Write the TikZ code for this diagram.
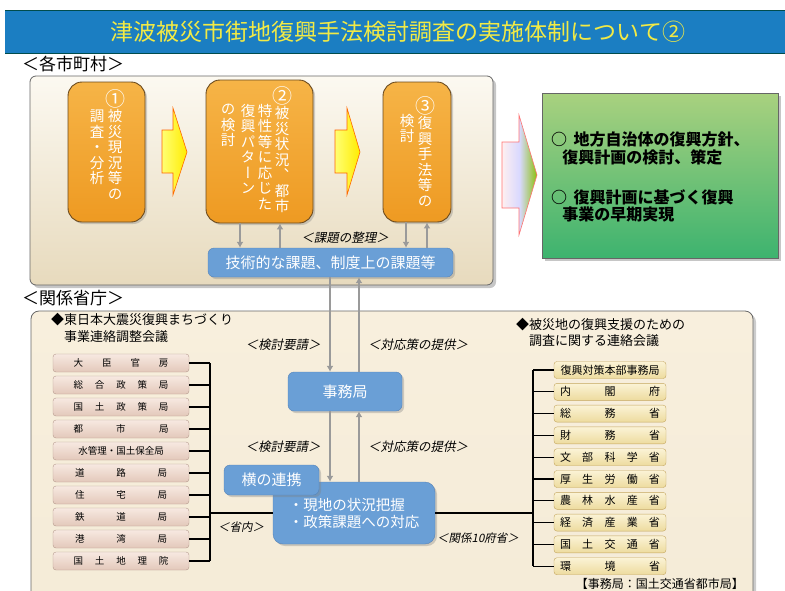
\documentclass[tikz,border=0pt]{standalone}
\usepackage{fontspec}
\setmainfont{Noto Sans CJK JP}
\newfontfamily\slantjp{Noto Sans CJK JP}[FakeSlant=0.2]
\newfontfamily\vertjp{Noto Sans CJK JP}[RawFeature=+vert]
\usetikzlibrary{arrows.meta, positioning, shadows}

\definecolor{titleblue}{HTML}{1B7EC2}
\definecolor{titleyellow}{HTML}{F2EA45}
\definecolor{panelgray}{HTML}{666666}
\definecolor{paneltop}{HTML}{FCF9F1}
\definecolor{panelbot}{HTML}{E7DABD}
\definecolor{lowtop}{HTML}{F8EFDD}
\definecolor{lowbot}{HTML}{F4EBD7}
\definecolor{orangetop}{HTML}{F6B447}
\definecolor{orangebot}{HTML}{EE9A22}
\definecolor{orangeline}{HTML}{6B4A1E}
\definecolor{greentop}{HTML}{A9D17F}
\definecolor{greenbot}{HTML}{3DB36F}
\definecolor{boxblue}{HTML}{6A9FD6}
\definecolor{blueline}{HTML}{5683B8}
\definecolor{arrowgray}{HTML}{9A9A9A}
\definecolor{lefttop}{HTML}{F7E9E1}
\definecolor{leftbot}{HTML}{E3C8BA}
\definecolor{leftline}{HTML}{B59A8E}
\definecolor{righttop}{HTML}{FBF3D6}
\definecolor{rightbot}{HTML}{EDDB9E}
\definecolor{rightline}{HTML}{C4A65E}

\newcommand{\spreadtext}[2]{\makebox[#1][s]{#2}}
\newcommand{\circnum}[1]{{\rmfamily\fontsize{20}{15.5}\selectfont #1}}

\tikzset{
  panel/.style={draw=panelgray, line width=0.8pt, rounded corners=6pt},
  orangebox/.style={draw=orangeline, line width=0.9pt, rounded corners=14pt,
    top color=orangetop, bottom color=orangebot,
    drop shadow={opacity=0.35, shadow xshift=2pt, shadow yshift=-2pt}},
  tatecol/.style={font=\vertjp\fontsize{14.5}{15.5}\selectfont, text=white,
    align=center, inner sep=0pt, anchor=north},
  bluebox/.style={draw=blueline, fill=boxblue, rounded corners=6pt, text=white,
    font=\fontsize{15}{18}\selectfont, inner sep=0pt,
    drop shadow={opacity=0.35, shadow xshift=2pt, shadow yshift=-2pt}},
  grayarrow/.style={draw=arrowgray, line width=1.6pt, -{Latex[length=6pt,width=7pt]}},
  slantlabel/.style={font=\slantjp\fontsize{12.5}{14}\selectfont, inner sep=0pt},
  leftbox/.style={draw=leftline, rounded corners=3pt, top color=lefttop, bottom color=leftbot,
    minimum width=136, minimum height=18, inner sep=0pt, font=\fontsize{9.5}{11}\selectfont},
  rightbox/.style={draw=rightline, rounded corners=3pt, top color=righttop, bottom color=rightbot,
    minimum width=112, minimum height=17, inner sep=0pt, font=\fontsize{11}{12}\selectfont},
  busline/.style={line width=1.3pt, black},
  yellowarrow/.style={draw=orange!80!red, line width=0.6pt, left color=yellow!55!white, right color=yellow!85!orange}
}

\begin{document}
\begin{tikzpicture}[x=1pt, y=-1pt]
\useasboundingbox (0,0) rectangle (785,590);

% title
\fill [titleblue] (5,10) rectangle (785,53);
\draw [teal!60!black, line width=0.6pt] (5,10) -- (785,10);
\draw [teal!60!black, line width=0.6pt] (5,53) -- (785,53);
\node (title) at (398,32) [text=titleyellow, font=\fontsize{23}{26}\selectfont] {津波被災市街地復興手法検討調査の実施体制について②};

% municipalities
\node (muni) at (22,64) [anchor=west, inner sep=0pt, font=\fontsize{17}{19}\selectfont] {＜各市町村＞};
\path [panel, top color=paneltop, bottom color=panelbot,
  drop shadow={opacity=0.45, shadow xshift=3pt, shadow yshift=-3pt}] (30,76) rectangle (493,285);

\node (o1) [orangebox, minimum width=77, minimum height=140] at (106.5,152) {};
\node (o2) [orangebox, minimum width=107, minimum height=143] at (259.5,151.5) {};
\node (o3) [orangebox, minimum width=68, minimum height=140] at (417,152) {};

\node (o1a) [tatecol] at (115,89) {\circnum{①}\\被\\災\\現\\況\\等\\の};
\node (o1b) [tatecol] at (97,110) {調\\査\\・\\分\\析};
\node (o2a) [tatecol] at (282,86) {\circnum{②}\\被\\災\\状\\況\\、\\都\\市};
\node (o2b) [tatecol] at (265,104) {特\\性\\等\\に\\応\\じ\\た};
\node (o2c) [tatecol] at (248,104) {復\\興\\パ\\タ\\ー\\ン};
\node (o2d) [tatecol] at (228,104) {の\\検\\討};
\node (o3a) [tatecol] at (425,96) {\circnum{③}\\復\\興\\手\\法\\等\\の};
\node (o3b) [tatecol] at (407,114) {検\\討};

\path [yellowarrow] (162,130) -- (173,130) -- (173,108) -- (187,152) -- (173,195) -- (173,173) -- (162,173) -- cycle;
\path [yellowarrow] (335,130) -- (347,130) -- (347,108) -- (360,152) -- (347,195) -- (347,173) -- (335,173) -- cycle;

\node (issue) [bluebox, minimum width=245, minimum height=29] at (330.5,262.5) {技術的な課題、制度上の課題等};
\node (sort) [slantlabel] at (345,238) {＜課題の整理＞};

\draw [grayarrow] ([xshift=-19.5pt]o2.south) -- ([xshift=-19.5pt]o2.south |- issue.north);
\draw [grayarrow] ([xshift=20.5pt]o2.south |- issue.north) -- ([xshift=20.5pt]o2.south);
\draw [grayarrow] ([xshift=-11pt]o3.south) -- ([xshift=-11pt]o3.south |- issue.north);
\draw [grayarrow] ([xshift=10pt]o3.south |- issue.north) -- ([xshift=10pt]o3.south);

% goal
\path [draw=red!55, line width=0.6pt, left color=red!6!white, right color=olive!70!green!70, middle color=blue!15!white]
  (502,142) -- (519,142) -- (519,115) -- (537,175) -- (519,235) -- (519,208) -- (502,208) -- cycle;
\node (goal) [draw=panelgray, line width=0.8pt, top color=greentop, bottom color=greenbot,
  minimum width=236, minimum height=165, drop shadow={opacity=0.45, shadow xshift=3pt, shadow yshift=-3pt}] at (660,175.5) {};
\node (goal1) [anchor=west, align=left, inner sep=0pt, font=\bfseries\fontsize{16}{17.5}\selectfont] at (551,148.5)
  {○\hspace{0.4em}地方自治体の復興方針、\\\hspace*{0.7em}復興計画の検討、策定};
\node (goal2) [anchor=west, align=left, inner sep=0pt, font=\bfseries\fontsize{16}{17.5}\selectfont] at (551,206)
  {○\hspace{0.4em}復興計画に基づく復興\\\hspace*{0.7em}事業の早期実現};

% ministries
\node (mini) at (22,298) [anchor=west, inner sep=0pt, font=\fontsize{17}{19}\selectfont] {＜関係省庁＞};
\path [panel, rounded corners=8pt, top color=lowtop, bottom color=lowbot,
  drop shadow={opacity=0.4, shadow xshift=3pt, shadow yshift=-3pt}] (31,311) rectangle (753,640);

\node (lhead) [anchor=west, align=left, inner sep=0pt, font=\fontsize{13}{17}\selectfont] at (51,328.5)
  {◆東日本大震災復興まちづくり\\\phantom{◆}事業連絡調整会議};
\node (rhead) [anchor=west, align=left, inner sep=0pt, font=\fontsize{13}{15.5}\selectfont] at (516,332.5)
  {◆被災地の復興支援のための\\\phantom{◆}調査に関する連絡会議};

\node (l1) [leftbox] at (121,363) {\spreadtext{95pt}{大\hfill 臣\hfill 官\hfill 房}};
\node (l2) [leftbox] at (121,385) {\spreadtext{95pt}{総\hfill 合\hfill 政\hfill 策\hfill 局}};
\node (l3) [leftbox] at (121,407) {\spreadtext{95pt}{国\hfill 土\hfill 政\hfill 策\hfill 局}};
\node (l4) [leftbox] at (121,429) {\spreadtext{95pt}{都\hfill 市\hfill 局}};
\node (l5) [leftbox] at (121,451) {水管理・国土保全局};
\node (l6) [leftbox] at (121,473) {\spreadtext{92pt}{道\hfill 路\hfill 局}};
\node (l7) [leftbox] at (121,495) {\spreadtext{92pt}{住\hfill 宅\hfill 局}};
\node (l8) [leftbox] at (121,517) {\spreadtext{92pt}{鉄\hfill 道\hfill 局}};
\node (l9) [leftbox] at (121,539) {\spreadtext{92pt}{港\hfill 湾\hfill 局}};
\node (l10) [leftbox] at (121,561) {\spreadtext{95pt}{国\hfill 土\hfill 地\hfill 理\hfill 院}};

\node (r1) [rightbox] at (610,370) {復興対策本部事務局};
\node (r2) [rightbox] at (610,391.8) {\spreadtext{100pt}{内\hfill 閣\hfill 府}};
\node (r3) [rightbox] at (610,413.6) {\spreadtext{100pt}{総\hfill 務\hfill 省}};
\node (r4) [rightbox] at (610,435.4) {\spreadtext{100pt}{財\hfill 務\hfill 省}};
\node (r5) [rightbox] at (610,457.2) {\spreadtext{100pt}{文\hfill 部\hfill 科\hfill 学\hfill 省}};
\node (r6) [rightbox] at (610,479) {\spreadtext{100pt}{厚\hfill 生\hfill 労\hfill 働\hfill 省}};
\node (r7) [rightbox] at (610,500.8) {\spreadtext{100pt}{農\hfill 林\hfill 水\hfill 産\hfill 省}};
\node (r8) [rightbox] at (610,522.6) {\spreadtext{100pt}{経\hfill 済\hfill 産\hfill 業\hfill 省}};
\node (r9) [rightbox] at (610,544.4) {\spreadtext{100pt}{国\hfill 土\hfill 交\hfill 通\hfill 省}};
\node (r10) [rightbox] at (610,566.2) {\spreadtext{100pt}{環\hfill 境\hfill 省}};

\node (office) [anchor=east, inner sep=0pt, font=\fontsize{12}{14}\selectfont] at (744,584) {【事務局：国土交通省都市局】};

% secretariat
\node (jimu) [bluebox, minimum width=114, minimum height=39] at (345,391.5) {事務局};
\node (genchi) [bluebox, rounded corners=10pt, minimum width=162, minimum height=62, align=left,
  font=\fontsize{14.5}{17}\selectfont] at (354,513) {・現地の状況把握\\・政策課題への対応};
\node (yoko) [bluebox, minimum width=95, minimum height=30] at (271.5,480) {横の連携};

\draw [grayarrow] ([xshift=-15pt]jimu.north |- issue.south) -- ([xshift=-15pt]jimu.north);
\draw [grayarrow] ([xshift=14pt]jimu.north) -- ([xshift=14pt]jimu.north |- issue.south);
\draw [grayarrow] ([xshift=-15pt]jimu.south) -- ([xshift=-15pt]jimu.south |- genchi.north);
\draw [grayarrow] ([xshift=14pt]jimu.south |- genchi.north) -- ([xshift=14pt]jimu.south);

\node (req1) [slantlabel] at (283,345) {＜検討要請＞};
\node (ans1) [slantlabel] at (418,345) {＜対応策の提供＞};
\node (req2) [slantlabel] at (283,447) {＜検討要請＞};
\node (ans2) [slantlabel] at (418,447) {＜対応策の提供＞};
\node (inner) [slantlabel, font=\slantjp\fontsize{11.5}{13}\selectfont] at (241,527) {＜省内＞};
\node (ten) [slantlabel, font=\slantjp\fontsize{11.5}{13}\selectfont] at (478,538) {＜関係10府省＞};

% bus lines
\coordinate (lbus) at (210,363);
\draw [busline] (l1.east) -- (l1.east -| lbus);
\draw [busline] (l2.east) -- (l2.east -| lbus);
\draw [busline] (l3.east) -- (l3.east -| lbus);
\draw [busline] (l4.east) -- (l4.east -| lbus);
\draw [busline] (l5.east) -- (l5.east -| lbus);
\draw [busline] (l6.east) -- (l6.east -| lbus);
\draw [busline] (l7.east) -- (l7.east -| lbus);
\draw [busline] (l8.east) -- (l8.east -| lbus);
\draw [busline] (l9.east) -- (l9.east -| lbus);
\draw [busline] (l10.east) -- (l10.east -| lbus);
\draw [busline] (l1.east -| lbus) -- (l10.east -| lbus);
\draw [busline] (genchi.west -| lbus) -- (genchi.west);

\coordinate (rbus) at (533,370);
\draw [busline] (r1.west) -- (r1.west -| rbus);
\draw [busline] (r2.west) -- (r2.west -| rbus);
\draw [busline] (r3.west) -- (r3.west -| rbus);
\draw [busline] (r4.west) -- (r4.west -| rbus);
\draw [busline] (r5.west) -- (r5.west -| rbus);
\draw [busline] (r6.west) -- (r6.west -| rbus);
\draw [busline] (r7.west) -- (r7.west -| rbus);
\draw [busline] (r8.west) -- (r8.west -| rbus);
\draw [busline] (r9.west) -- (r9.west -| rbus);
\draw [busline] (r10.west) -- (r10.west -| rbus);
\draw [busline] (r1.west -| rbus) -- (r10.west -| rbus);
\draw [busline] (genchi.east) -- (genchi.east -| rbus);
\end{tikzpicture}
\end{document}
